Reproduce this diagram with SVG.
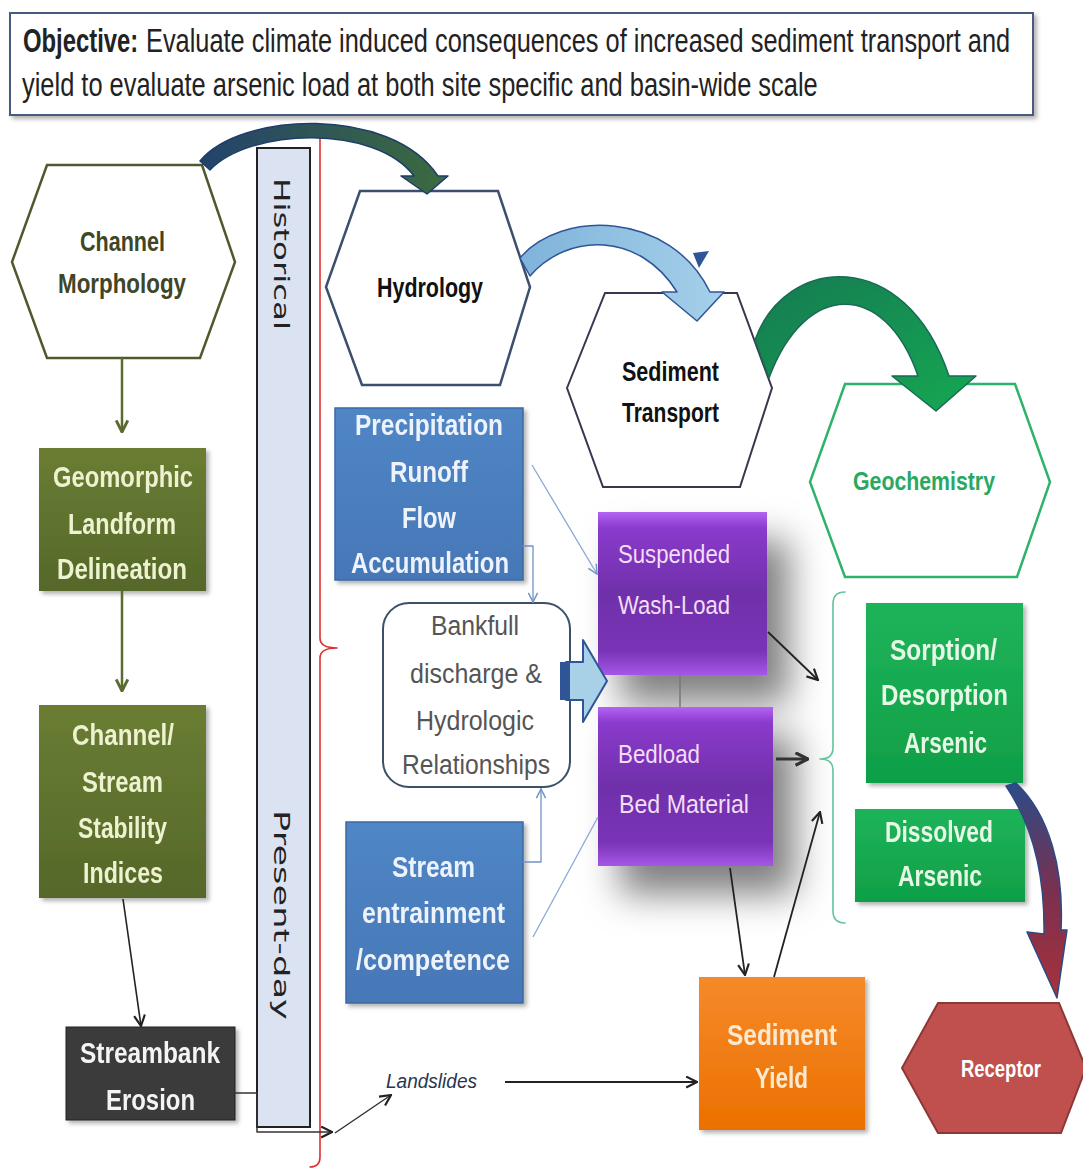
<svg xmlns="http://www.w3.org/2000/svg" width="1083" height="1170" viewBox="0 0 1083 1170">
<defs>
<style>
text{font-family:"Liberation Sans",Arial,sans-serif;}
.b{font-weight:bold;}
.wol{fill:#edf2d0;font-weight:bold;font-size:30px;}
.wbl{fill:#eef3fb;font-weight:bold;font-size:30px;}
.wgr{fill:#e6f7e6;font-weight:bold;font-size:30px;}
.wpu{fill:#f3ddf7;font-size:26px;}
.ln{fill:none;stroke-linecap:round;stroke-linejoin:round;}
</style>
<linearGradient id="gOl" x1="0" y1="0" x2="0" y2="1"><stop offset="0" stop-color="#6a7d33"/><stop offset="1" stop-color="#55682a"/></linearGradient>
<linearGradient id="gBl" x1="0" y1="0" x2="0" y2="1"><stop offset="0" stop-color="#5086c6"/><stop offset="1" stop-color="#4677b6"/></linearGradient>
<linearGradient id="gGr" x1="0" y1="0" x2="0" y2="1"><stop offset="0" stop-color="#1fb45a"/><stop offset="1" stop-color="#0f9f47"/></linearGradient>
<linearGradient id="gOr" x1="0" y1="0" x2="0" y2="1"><stop offset="0" stop-color="#f68a2a"/><stop offset="1" stop-color="#ec7000"/></linearGradient>
<linearGradient id="gPu" x1="0" y1="0" x2="0" y2="1"><stop offset="0" stop-color="#b464f2"/><stop offset="0.1" stop-color="#8a3acc"/><stop offset="0.5" stop-color="#7030aa"/><stop offset="0.85" stop-color="#7834b6"/><stop offset="1" stop-color="#a656e6"/></linearGradient>
<linearGradient id="gA" x1="0" y1="0" x2="1" y2="0"><stop offset="0" stop-color="#23436c"/><stop offset="1" stop-color="#3c6b3e"/></linearGradient>
<linearGradient id="gB" x1="0" y1="0" x2="1" y2="0"><stop offset="0" stop-color="#7fb3da"/><stop offset="1" stop-color="#a6d0ea"/></linearGradient>
<linearGradient id="gC" x1="0" y1="0" x2="1" y2="1"><stop offset="0" stop-color="#157a52"/><stop offset="1" stop-color="#15a853"/></linearGradient>
<linearGradient id="gD" x1="0" y1="0" x2="0" y2="1"><stop offset="0" stop-color="#2d4b88"/><stop offset="0.5" stop-color="#7a3050"/><stop offset="1" stop-color="#a8323a"/></linearGradient>
<filter id="sh" x="-10%" y="-10%" width="130%" height="130%"><feDropShadow dx="3" dy="3" stdDeviation="2" flood-color="#000" flood-opacity="0.3"/></filter>
<filter id="bigsh" x="-30%" y="-30%" width="180%" height="170%"><feDropShadow dx="22" dy="28" stdDeviation="18" flood-color="#000" flood-opacity="0.5"/></filter>
<marker id="mOl" viewBox="0 0 12 12" refX="11" refY="6" markerWidth="14" markerHeight="14" markerUnits="userSpaceOnUse" orient="auto"><path d="M1,1 L11,6 L1,11" fill="none" stroke="#5a6b30" stroke-width="2.5"/></marker>
<marker id="mBk" viewBox="0 0 12 12" refX="11" refY="6" markerWidth="13" markerHeight="13" markerUnits="userSpaceOnUse" orient="auto"><path d="M1,1 L11,6 L1,11" fill="none" stroke="#222" stroke-width="2"/></marker>
<marker id="mBk2" viewBox="0 0 12 12" refX="11" refY="6" markerWidth="15" markerHeight="15" markerUnits="userSpaceOnUse" orient="auto"><path d="M1,1 L11,6 L1,11" fill="none" stroke="#333" stroke-width="2.5"/></marker>
<marker id="mBl" viewBox="0 0 12 12" refX="11" refY="6" markerWidth="11" markerHeight="11" markerUnits="userSpaceOnUse" orient="auto"><path d="M1,1 L11,6 L1,11" fill="none" stroke="#7393c6" stroke-width="1.6"/></marker>
</defs>
<rect width="1083" height="1170" fill="#fff"/>

<g id="objective">
<rect x="10" y="13" width="1023" height="102" fill="#fff" stroke="#4a5a80" stroke-width="2" filter="url(#sh)"/>
<text transform="translate(23,52) scale(0.72,1)" font-size="33" font-weight="bold" textLength="160" lengthAdjust="spacingAndGlyphs" fill="#222">Objective:</text>
<text transform="translate(146,52) scale(0.76,1)" font-size="33" textLength="1137" lengthAdjust="spacingAndGlyphs" fill="#222">Evaluate climate induced consequences of increased sediment transport and</text>
<text transform="translate(22,96) scale(0.76,1)" font-size="33" textLength="1047" lengthAdjust="spacingAndGlyphs" fill="#222">yield to evaluate arsenic load at both site specific and basin-wide scale</text>
</g>

<g id="timebar">
<rect x="257" y="148" width="53" height="979" fill="#dbe3f3" stroke="#222" stroke-width="2"/>
<text transform="translate(274,178) rotate(90)" style="font-family:'DejaVu Sans',sans-serif" font-size="22" textLength="152" lengthAdjust="spacingAndGlyphs" fill="#222">Historical</text>
<text transform="translate(274,810) rotate(90)" style="font-family:'DejaVu Sans',sans-serif" font-size="22" textLength="210" lengthAdjust="spacingAndGlyphs" fill="#222">Present-day</text>
</g>

<g id="brace-red">
<path class="ln" d="M310,125 Q320,125 320,135 L320,638 Q320,648 337,648 Q320,648 320,658 L320,1157 Q320,1167 310,1167" stroke="#e03030" stroke-width="1.6"/>
</g>

<g id="channel-morphology">
<polygon points="12,262 47,165 202,165 235,262 200,358 47,358" fill="#fff" stroke="#4e5a2c" stroke-width="2.5"/>
<text x="80" y="251" font-size="28" class="b" textLength="85" lengthAdjust="spacingAndGlyphs" fill="#3e4626">Channel</text>
<text x="58" y="293" font-size="28" class="b" textLength="128" lengthAdjust="spacingAndGlyphs" fill="#3e4626">Morphology</text>
</g>

<g id="geomorphic" filter="url(#sh)">
<rect x="39" y="448" width="167" height="143" fill="url(#gOl)"/>
<text x="53" y="487" class="wol" textLength="140" lengthAdjust="spacingAndGlyphs">Geomorphic</text>
<text x="68" y="534" class="wol" textLength="108" lengthAdjust="spacingAndGlyphs">Landform</text>
<text x="57" y="579" class="wol" textLength="130" lengthAdjust="spacingAndGlyphs">Delineation</text>
</g>

<g id="stability" filter="url(#sh)">
<rect x="39" y="705" width="167" height="193" fill="url(#gOl)"/>
<text x="72" y="745" class="wol" textLength="102" lengthAdjust="spacingAndGlyphs">Channel/</text>
<text x="82" y="792" class="wol" textLength="81" lengthAdjust="spacingAndGlyphs">Stream</text>
<text x="78" y="838" class="wol" textLength="89" lengthAdjust="spacingAndGlyphs">Stability</text>
<text x="83" y="883" class="wol" textLength="80" lengthAdjust="spacingAndGlyphs">Indices</text>
</g>

<g id="streambank" filter="url(#sh)">
<rect x="66" y="1027" width="169" height="93" fill="#3a3a3a" stroke="#222" stroke-width="1"/>
<text x="80" y="1063" font-size="29" class="b" fill="#f4f4f4" textLength="140" lengthAdjust="spacingAndGlyphs">Streambank</text>
<text x="106" y="1110" font-size="29" class="b" fill="#f4f4f4" textLength="89" lengthAdjust="spacingAndGlyphs">Erosion</text>
</g>

<g id="hydrology">
<polygon points="326,287 360,191 498,191 530,287 500,385 362,385" fill="#fff" stroke="#3e4e6e" stroke-width="2.5"/>
<text x="377" y="297" font-size="27" class="b" fill="#111" textLength="106" lengthAdjust="spacingAndGlyphs">Hydrology</text>
</g>

<g id="sediment-transport">
<polygon points="567,388 605,293 737,293 772,388 740,487 603,487" fill="#fff" stroke="#3d3550" stroke-width="2"/>
<text x="622" y="381" font-size="27" class="b" fill="#111" textLength="97" lengthAdjust="spacingAndGlyphs">Sediment</text>
<text x="622" y="422" font-size="27" class="b" fill="#111" textLength="97" lengthAdjust="spacingAndGlyphs">Transport</text>
</g>

<g id="geochemistry">
<polygon points="810,482 845,384 1015,384 1050,482 1017,577 845,577" fill="#fff" stroke="#2fb36c" stroke-width="2.5"/>
<text x="853" y="490" font-size="25" class="b" fill="#2aa860" textLength="142" lengthAdjust="spacingAndGlyphs">Geochemistry</text>
</g>

<g id="precipitation" filter="url(#sh)">
<rect x="335" y="408" width="188" height="172" fill="url(#gBl)" stroke="#3a6aa5" stroke-width="1.5"/>
<text x="355" y="435" class="wbl" textLength="148" lengthAdjust="spacingAndGlyphs">Precipitation</text>
<text x="390" y="482" class="wbl" textLength="78" lengthAdjust="spacingAndGlyphs">Runoff</text>
<text x="402" y="528" class="wbl" textLength="54" lengthAdjust="spacingAndGlyphs">Flow</text>
<text x="351" y="573" class="wbl" textLength="158" lengthAdjust="spacingAndGlyphs">Accumulation</text>
</g>

<g id="bankfull">
<rect x="383" y="603" width="187" height="184" rx="26" ry="26" fill="#fff" stroke="#3c5068" stroke-width="2"/>
<text x="431" y="635" font-size="27" fill="#555" textLength="88" lengthAdjust="spacingAndGlyphs">Bankfull</text>
<text x="410" y="683" font-size="27" fill="#555" textLength="132" lengthAdjust="spacingAndGlyphs">discharge &amp;</text>
<text x="416" y="730" font-size="27" fill="#555" textLength="118" lengthAdjust="spacingAndGlyphs">Hydrologic</text>
<text x="402" y="774" font-size="27" fill="#555" textLength="148" lengthAdjust="spacingAndGlyphs">Relationships</text>
</g>

<g id="entrainment" filter="url(#sh)">
<rect x="346" y="822" width="177" height="181" fill="url(#gBl)" stroke="#3a6aa5" stroke-width="1.5"/>
<text x="392" y="877" class="wbl" textLength="83" lengthAdjust="spacingAndGlyphs">Stream</text>
<text x="362" y="923" class="wbl" textLength="143" lengthAdjust="spacingAndGlyphs">entrainment</text>
<text x="356" y="970" class="wbl" textLength="154" lengthAdjust="spacingAndGlyphs">/competence</text>
</g>

<g id="purple-shadow" filter="url(#bigsh)">
<rect x="598" y="512" width="169" height="163" fill="#7030aa"/>
<rect x="598" y="707" width="175" height="159" fill="#7030aa"/>
</g>
<g id="suspended">
<rect x="598" y="512" width="169" height="163" fill="url(#gPu)"/>
<text x="618" y="563" class="wpu" textLength="112" lengthAdjust="spacingAndGlyphs">Suspended</text>
<text x="618" y="614" class="wpu" textLength="112" lengthAdjust="spacingAndGlyphs">Wash-Load</text>
</g>
<g id="bedload">
<rect x="598" y="707" width="175" height="159" fill="url(#gPu)"/>
<text x="618" y="763" class="wpu" textLength="82" lengthAdjust="spacingAndGlyphs">Bedload</text>
<text x="619" y="813" class="wpu" textLength="130" lengthAdjust="spacingAndGlyphs">Bed Material</text>
</g>

<g id="sorption" filter="url(#sh)">
<rect x="866" y="603" width="157" height="180" fill="url(#gGr)"/>
<text x="890" y="660" class="wgr" textLength="107" lengthAdjust="spacingAndGlyphs">Sorption/</text>
<text x="881" y="705" class="wgr" textLength="127" lengthAdjust="spacingAndGlyphs">Desorption</text>
<text x="904" y="753" class="wgr" textLength="83" lengthAdjust="spacingAndGlyphs">Arsenic</text>
</g>

<g id="dissolved" filter="url(#sh)">
<rect x="855" y="809" width="170" height="93" fill="url(#gGr)"/>
<text x="885" y="842" class="wgr" textLength="108" lengthAdjust="spacingAndGlyphs">Dissolved</text>
<text x="898" y="886" class="wgr" textLength="84" lengthAdjust="spacingAndGlyphs">Arsenic</text>
</g>

<g id="sediment-yield" filter="url(#sh)">
<rect x="699" y="977" width="166" height="153" fill="url(#gOr)"/>
<text x="727" y="1045" font-size="30" class="b" fill="#fde9d0" textLength="110" lengthAdjust="spacingAndGlyphs">Sediment</text>
<text x="755" y="1088" font-size="30" class="b" fill="#fde9d0" textLength="53" lengthAdjust="spacingAndGlyphs">Yield</text>
</g>

<g id="receptor">
<polygon points="902,1068 938,1003 1059,1003 1086,1068 1061,1133 938,1133" fill="#c0504d" stroke="#8c3836" stroke-width="2"/>
<text x="961" y="1077" font-size="23" class="b" fill="#fff" textLength="80" lengthAdjust="spacingAndGlyphs">Receptor</text>
</g>

<g id="landslides">
<text x="386" y="1088" font-size="20" font-style="italic" fill="#2a3550" textLength="91" lengthAdjust="spacingAndGlyphs">Landslides</text>
</g>

<g id="brace-green">
<path class="ln" d="M845,592 Q833,592 833,604 L833,748 Q833,759 820,759 Q833,759 833,770 L833,911 Q833,923 845,923" stroke="#5fc49a" stroke-width="1.6"/>
</g>

<g id="connectors">
<line x1="122" y1="358" x2="122" y2="432" stroke="#5a6b30" stroke-width="2.5" marker-end="url(#mOl)"/>
<line x1="122" y1="591" x2="122" y2="691" stroke="#5a6b30" stroke-width="2.5" marker-end="url(#mOl)"/>
<line x1="123" y1="899" x2="141" y2="1026" stroke="#222" stroke-width="1.6" marker-end="url(#mBk)"/>
<polyline class="ln" points="235,1093 257,1093 257,1132 332,1132" stroke="#333" stroke-width="1.5" marker-end="url(#mBk)"/>
<line x1="335" y1="1133" x2="391" y2="1095" stroke="#333" stroke-width="1.5" marker-end="url(#mBk)"/>
<line x1="505" y1="1082" x2="697" y2="1082" stroke="#222" stroke-width="2.2" marker-end="url(#mBk)"/>
<polyline class="ln" points="523,546 533,546 533,602" stroke="#7393c6" stroke-width="1.3" marker-end="url(#mBl)"/>
<polyline class="ln" points="523,862 541,862 541,789" stroke="#7393c6" stroke-width="1.3" marker-end="url(#mBl)"/>
<line x1="532" y1="465" x2="597" y2="574" stroke="#8aa8d8" stroke-width="1.3" marker-end="url(#mBl)"/>
<line x1="533" y1="937" x2="598" y2="817" stroke="#8aa8d8" stroke-width="1.3"/>
<line x1="680" y1="675" x2="680" y2="707" stroke="#777" stroke-width="1.5"/>
<line x1="768" y1="632" x2="818" y2="680" stroke="#222" stroke-width="1.8" marker-end="url(#mBk)"/>
<line x1="776" y1="759" x2="808" y2="759" stroke="#333" stroke-width="3" marker-end="url(#mBk2)"/>
<line x1="730" y1="868" x2="745" y2="975" stroke="#222" stroke-width="1.8" marker-end="url(#mBk)"/>
<line x1="774" y1="977" x2="820" y2="812" stroke="#222" stroke-width="1.8" marker-end="url(#mBk)"/>
<path d="M566,662 L583,662 L583,640 L607,681 L583,722 L583,700 L566,700 Z" fill="#a8d0e6" stroke="#2f5597" stroke-width="2" stroke-linejoin="round"/>
<rect x="560" y="662" width="10" height="38" fill="#2f5597"/>
<path d="M200,161 C240,112 390,105 438,176 L448,176 L427,194 L401,176 L414,176 C375,124 250,128 210,170 Z" fill="url(#gA)" stroke="#1f3d6b" stroke-width="1.5" stroke-linejoin="round"/>
<path d="M520,258 C560,210 670,210 710,292 L724,292 L697,321 L662,292 L677,292 C640,232 568,232 530,276 Z" fill="url(#gB)" stroke="#2f5597" stroke-width="1.5" stroke-linejoin="round"/>
<polygon points="693,253 709,251 699,268" fill="#2f5597"/>
<path d="M755,340 C785,255 905,245 949,376 L976,376 L936,411 L892,376 L918,376 C885,280 805,280 769,378 Z" fill="url(#gC)" stroke="#1a6a55" stroke-width="1.5" stroke-linejoin="round"/>
<path d="M1016,783 C1050,815 1064,870 1061,930 L1067,930 L1057,998 L1027,932 L1044,934 C1045,875 1033,826 1006,786 Z" fill="url(#gD)" stroke="#2b4a85" stroke-width="1.5" stroke-linejoin="round"/>
</g>
</svg>
